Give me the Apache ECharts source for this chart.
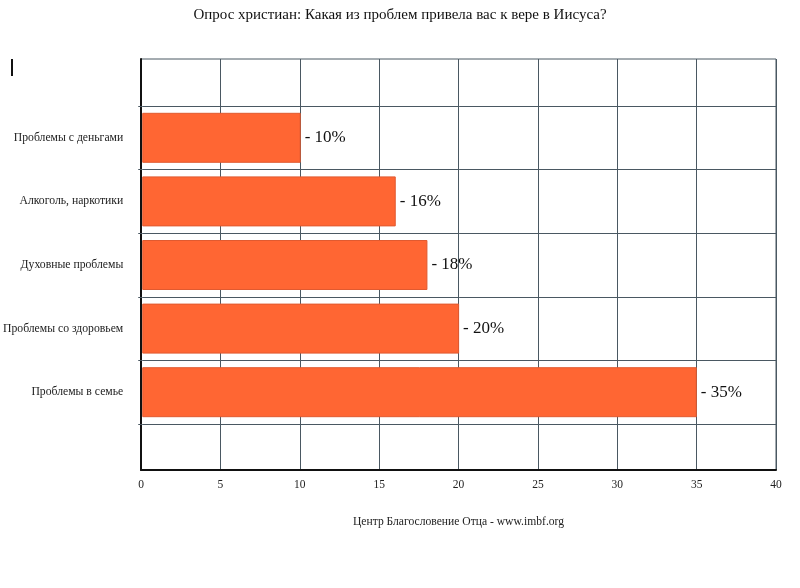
<!DOCTYPE html>
<html><head><meta charset="utf-8">
<script src="https://cdn.jsdelivr.net/npm/echarts@6/dist/echarts.min.js"></script>
<style>html,body{margin:0;padding:0;background:#fff}#c{width:800px;height:588px}</style>
</head><body><div id="c"></div>
<script>
var titleText = 'Опрос христиан: Какая из проблем привела вас к вере в Иисуса?';
var sourceText = 'Центр Благословение Отца - www.imbf.org';
var categories = ['Проблемы с деньгами', 'Алкоголь, наркотики', 'Духовные проблемы', 'Проблемы со здоровьем', 'Проблемы в семье'];
var values = [10, 16, 18, 20, 35];
var xMin = 0, xMax = 40, xStep = 5;

var FONT = '"Liberation Serif", "Times New Roman", serif';
var GRID = '#4a5862';
var chart = echarts.init(document.getElementById('c'));
chart.setOption({
  animation: false,
  backgroundColor: '#fff',
  title: {text: titleText, left: 'center', top: 3, textStyle: {fontFamily: FONT, fontSize: 15, fontWeight: 'normal', color: '#111'}},
  graphic: [{type: 'rect', left: 11, top: 59, shape: {width: 2, height: 17}, style: {fill: '#111'}}],
  grid: [
    {left: 141, right: 24, top: 59, bottom: 118, show: true, borderColor: GRID, borderWidth: 1, containLabel: false},
    {left: 141, right: 24, top: 106, bottom: 164, containLabel: false}
  ],
  xAxis: [
    {gridIndex: 0, type: 'value', min: xMin, max: xMax, interval: xStep,
     axisLine: {show: true, lineStyle: {color: '#111', width: 2}},
     axisTick: {show: false},
     axisLabel: {fontFamily: FONT, fontSize: 11.5, color: '#222', margin: 9},
     splitLine: {show: true, lineStyle: {color: GRID, width: 1}},
     name: sourceText, nameLocation: 'middle', nameGap: 46,
     nameTextStyle: {fontFamily: FONT, fontSize: 11.6, color: '#222'}},
    {gridIndex: 1, type: 'value', min: xMin, max: xMax, interval: xStep, show: false}
  ],
  yAxis: [
    {gridIndex: 0, type: 'value', min: 0, max: 1, axisLine: {show: true, lineStyle: {color: '#111', width: 2}},
     axisTick: {show: false}, axisLabel: {show: false}, splitLine: {show: false}},
    {gridIndex: 1, type: 'category', data: categories, inverse: true,
     axisLine: {show: false},
     axisTick: {show: true, length: 4, lineStyle: {color: GRID}},
     axisLabel: {fontFamily: FONT, fontSize: 11.7, color: '#222', margin: 19},
     splitLine: {show: true, lineStyle: {color: GRID, width: 1}}}
  ],
  series: [{
    type: 'bar', xAxisIndex: 1, yAxisIndex: 1, data: values, barWidth: 50, z: 5,
    itemStyle: {color: '#ff6633', borderColor: '#e05a30', borderWidth: 1},
    label: {show: true, position: 'right', distance: 4, formatter: function(p){return '- ' + p.value + '%';},
      fontFamily: FONT, fontSize: 17, color: '#111'}
  }]
});
</script></body></html>
